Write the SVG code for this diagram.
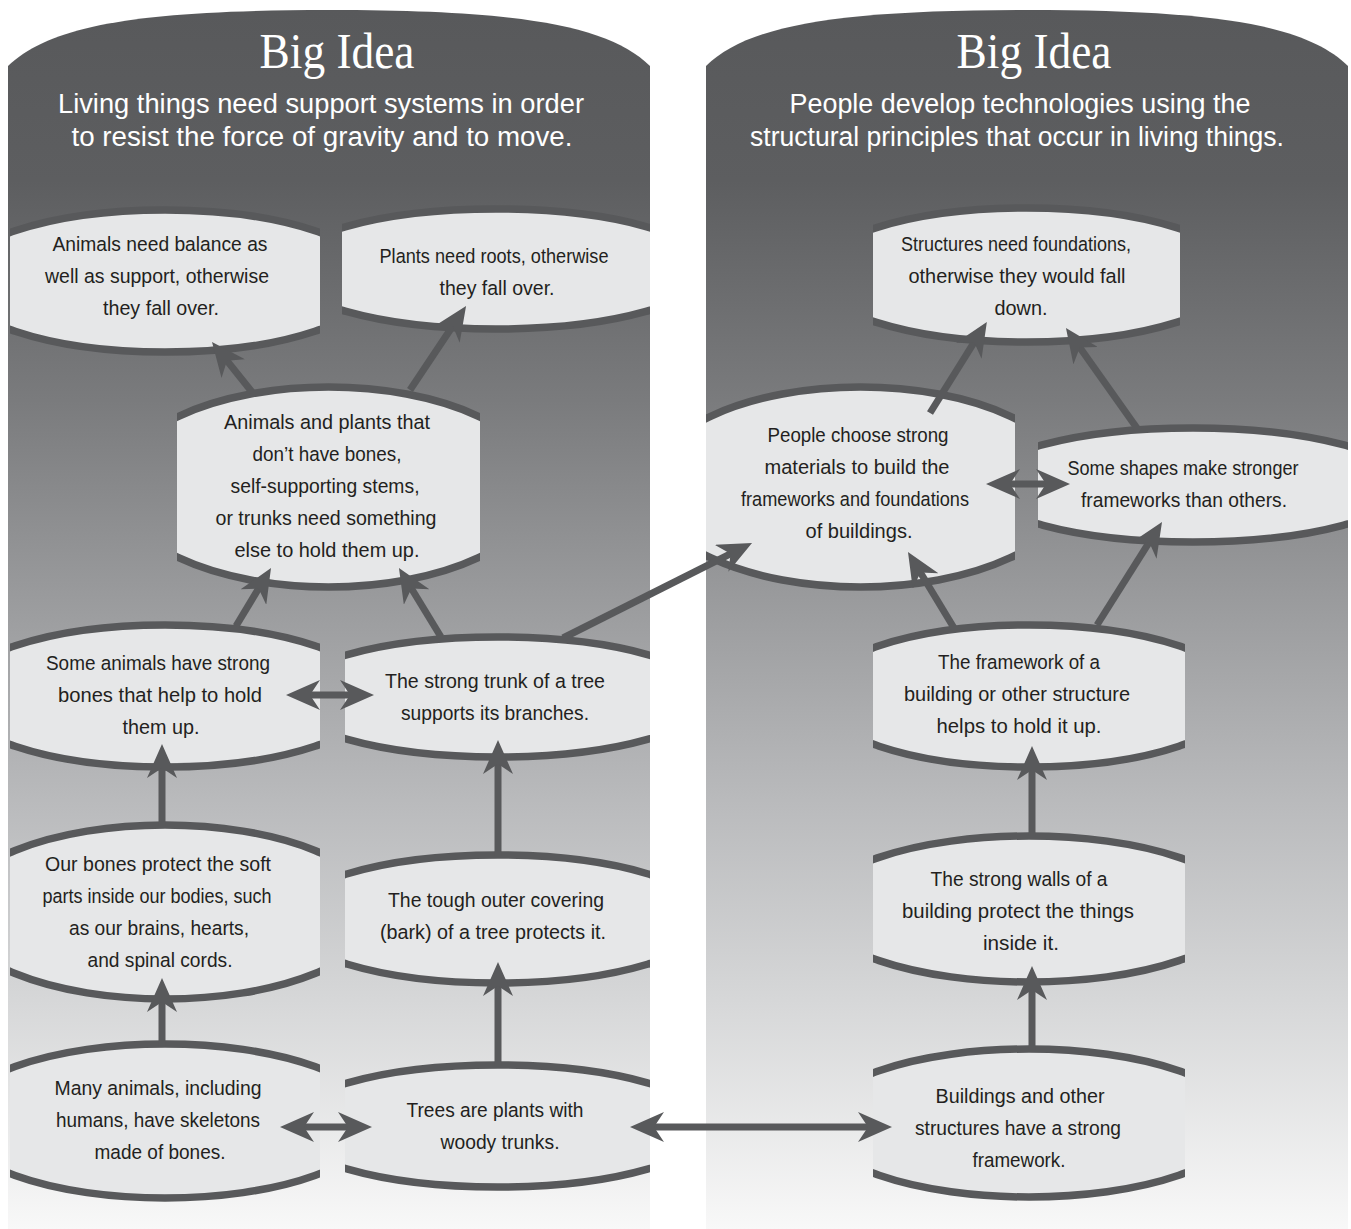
<svg xmlns="http://www.w3.org/2000/svg" width="1351" height="1229" viewBox="0 0 1351 1229">
<style>
.pt{font-family:"Liberation Sans",Arial,sans-serif;font-size:20.5px;fill:#231f20;text-anchor:middle}
.ttl{font-family:"Liberation Serif","Times New Roman",serif;font-size:50px;fill:#ffffff;text-anchor:middle}
.sub{font-family:"Liberation Sans",Arial,sans-serif;font-size:27px;fill:#ffffff;text-anchor:middle}
.shape{fill:#e6e7e8;stroke:#58595b;stroke-width:7.5}
.con{stroke:#58595b;stroke-width:7;fill:none}
.one{marker-end:url(#ah)}
.two{marker-start:url(#ah);marker-end:url(#ah)}
</style>
<defs>
<linearGradient id="bg" gradientUnits="userSpaceOnUse" x1="0" y1="10" x2="0" y2="1229">
<stop offset="0" stop-color="#58595b"/>
<stop offset="0.14" stop-color="#5d5e60"/>
<stop offset="0.32" stop-color="#7a7b7d"/>
<stop offset="0.484" stop-color="#9a9b9d"/>
<stop offset="0.648" stop-color="#b9babc"/>
<stop offset="0.812" stop-color="#d6d7d8"/>
<stop offset="1" stop-color="#f8f8f8"/>
</linearGradient>
<marker id="ah" markerUnits="userSpaceOnUse" markerWidth="34" markerHeight="30" refX="22" refY="15" orient="auto-start-reverse" viewBox="0 0 34 30">
<path d="M34,15 L0,0 L10,15 L0,30 Z" fill="#58595b"/>
</marker>
<clipPath id="c1"><rect x="10" y="200" width="310" height="162"/></clipPath>
<clipPath id="c2"><rect x="342" y="200" width="308" height="140"/></clipPath>
<clipPath id="c3"><rect x="177" y="378" width="303" height="218"/></clipPath>
<clipPath id="c4"><rect x="10" y="616" width="310" height="160"/></clipPath>
<clipPath id="c5"><rect x="345" y="628" width="305" height="138"/></clipPath>
<clipPath id="c6"><rect x="10" y="816" width="310" height="192"/></clipPath>
<clipPath id="c7"><rect x="345" y="846" width="305" height="146"/></clipPath>
<clipPath id="c8"><rect x="10" y="1035" width="310" height="172"/></clipPath>
<clipPath id="c9"><rect x="345" y="1056" width="305" height="140"/></clipPath>
<clipPath id="c10"><rect x="873" y="199" width="307" height="152"/></clipPath>
<clipPath id="c11"><rect x="706" y="378" width="309" height="218"/></clipPath>
<clipPath id="c12"><rect x="1038" y="419" width="310" height="132"/></clipPath>
<clipPath id="c13"><rect x="873" y="616" width="312" height="160"/></clipPath>
<clipPath id="c14"><rect x="873" y="827" width="312" height="164"/></clipPath>
<clipPath id="c15"><rect x="873" y="1040" width="312" height="166"/></clipPath>
</defs>
<rect width="1351" height="1229" fill="#ffffff"/>
<g id="panel-left">
<path d="M8,66 C50,25 140,10 329,10 C518,10 608,25 650,66 V1229 H8 Z" fill="url(#bg)"/>
<text class="ttl" x="337" y="68" textLength="155" lengthAdjust="spacingAndGlyphs">Big Idea</text>
<text class="sub" x="321" y="113" textLength="526" lengthAdjust="spacingAndGlyphs">Living things need support systems in order</text>
<text class="sub" x="322" y="146" textLength="501" lengthAdjust="spacingAndGlyphs">to resist the force of gravity and to move.</text>
</g>
<g id="panel-right">
<path d="M706,66 C748,25 838,10 1027,10 C1216,10 1306,25 1348,66 V1229 H706 Z" fill="url(#bg)"/>
<text class="ttl" x="1034" y="68" textLength="155" lengthAdjust="spacingAndGlyphs">Big Idea</text>
<text class="sub" x="1020" y="113" textLength="461" lengthAdjust="spacingAndGlyphs">People develop technologies using the</text>
<text class="sub" x="1017" y="146" textLength="534" lengthAdjust="spacingAndGlyphs">structural principles that occur in living things.</text>
</g>
<g id="n1"><ellipse class="shape" clip-path="url(#c1)" cx="165" cy="281" rx="212" ry="71"/>
<text class="pt"><tspan x="160" y="251" textLength="215" lengthAdjust="spacingAndGlyphs">Animals need balance as</tspan><tspan x="157" y="283" textLength="224" lengthAdjust="spacingAndGlyphs">well as support, otherwise</tspan><tspan x="161" y="315" textLength="116" lengthAdjust="spacingAndGlyphs">they fall over.</tspan></text></g>
<g id="n2"><ellipse class="shape" clip-path="url(#c2)" cx="496" cy="269" rx="212" ry="60"/>
<text class="pt"><tspan x="494" y="263" textLength="229" lengthAdjust="spacingAndGlyphs">Plants need roots, otherwise</tspan><tspan x="497" y="295" textLength="115" lengthAdjust="spacingAndGlyphs">they fall over.</tspan></text></g>
<g id="n3"><ellipse class="shape" clip-path="url(#c3)" cx="328.5" cy="487" rx="212" ry="100"/>
<text class="pt"><tspan x="327" y="429" textLength="206" lengthAdjust="spacingAndGlyphs">Animals and plants that</tspan><tspan x="327" y="461" textLength="149" lengthAdjust="spacingAndGlyphs">don’t have bones,</tspan><tspan x="325" y="493" textLength="189" lengthAdjust="spacingAndGlyphs">self-supporting stems,</tspan><tspan x="326" y="525" textLength="221" lengthAdjust="spacingAndGlyphs">or trunks need something</tspan><tspan x="327" y="557" textLength="185" lengthAdjust="spacingAndGlyphs">else to hold them up.</tspan></text></g>
<g id="n4"><ellipse class="shape" clip-path="url(#c4)" cx="165" cy="696" rx="212" ry="71"/>
<text class="pt"><tspan x="158" y="670" textLength="224" lengthAdjust="spacingAndGlyphs">Some animals have strong</tspan><tspan x="160" y="702" textLength="204" lengthAdjust="spacingAndGlyphs">bones that help to hold</tspan><tspan x="161" y="734" textLength="77" lengthAdjust="spacingAndGlyphs">them up.</tspan></text></g>
<g id="n5"><ellipse class="shape" clip-path="url(#c5)" cx="497.5" cy="697" rx="212" ry="60"/>
<text class="pt"><tspan x="495" y="688" textLength="220" lengthAdjust="spacingAndGlyphs">The strong trunk of a tree</tspan><tspan x="495" y="720" textLength="188" lengthAdjust="spacingAndGlyphs">supports its branches.</tspan></text></g>
<g id="n6"><ellipse class="shape" clip-path="url(#c6)" cx="165" cy="912" rx="212" ry="87"/>
<text class="pt"><tspan x="158" y="871" textLength="226" lengthAdjust="spacingAndGlyphs">Our bones protect the soft</tspan><tspan x="157" y="903" textLength="229" lengthAdjust="spacingAndGlyphs">parts inside our bodies, such</tspan><tspan x="159" y="935" textLength="180" lengthAdjust="spacingAndGlyphs">as our brains, hearts,</tspan><tspan x="160" y="967" textLength="145" lengthAdjust="spacingAndGlyphs">and spinal cords.</tspan></text></g>
<g id="n7"><ellipse class="shape" clip-path="url(#c7)" cx="497.5" cy="919" rx="212" ry="64"/>
<text class="pt"><tspan x="496" y="907" textLength="216" lengthAdjust="spacingAndGlyphs">The tough outer covering</tspan><tspan x="493" y="939" textLength="226" lengthAdjust="spacingAndGlyphs">(bark) of a tree protects it.</tspan></text></g>
<g id="n8"><ellipse class="shape" clip-path="url(#c8)" cx="165" cy="1121" rx="212" ry="77"/>
<text class="pt"><tspan x="158" y="1095" textLength="207" lengthAdjust="spacingAndGlyphs">Many animals, including</tspan><tspan x="158" y="1127" textLength="204" lengthAdjust="spacingAndGlyphs">humans, have skeletons</tspan><tspan x="160" y="1159" textLength="131" lengthAdjust="spacingAndGlyphs">made of bones.</tspan></text></g>
<g id="n9"><ellipse class="shape" clip-path="url(#c9)" cx="497.5" cy="1126" rx="212" ry="61"/>
<text class="pt"><tspan x="495" y="1117" textLength="177" lengthAdjust="spacingAndGlyphs">Trees are plants with</tspan><tspan x="500" y="1149" textLength="119" lengthAdjust="spacingAndGlyphs">woody trunks.</tspan></text></g>
<g id="r1"><ellipse class="shape" clip-path="url(#c10)" cx="1026.5" cy="275" rx="212" ry="67"/>
<text class="pt"><tspan x="1016" y="251" textLength="230" lengthAdjust="spacingAndGlyphs">Structures need foundations,</tspan><tspan x="1017" y="283" textLength="217" lengthAdjust="spacingAndGlyphs">otherwise they would fall</tspan><tspan x="1021" y="315" textLength="53" lengthAdjust="spacingAndGlyphs">down.</tspan></text></g>
<g id="r2"><ellipse class="shape" clip-path="url(#c11)" cx="860.5" cy="487" rx="212" ry="100"/>
<text class="pt"><tspan x="858" y="442" textLength="181" lengthAdjust="spacingAndGlyphs">People choose strong</tspan><tspan x="857" y="474" textLength="185" lengthAdjust="spacingAndGlyphs">materials to build the</tspan><tspan x="855" y="506" textLength="228" lengthAdjust="spacingAndGlyphs">frameworks and foundations</tspan><tspan x="859" y="538" textLength="107" lengthAdjust="spacingAndGlyphs">of buildings.</tspan></text></g>
<g id="r3"><ellipse class="shape" clip-path="url(#c12)" cx="1193" cy="485" rx="212" ry="57"/>
<text class="pt"><tspan x="1183" y="475" textLength="231" lengthAdjust="spacingAndGlyphs">Some shapes make stronger</tspan><tspan x="1184" y="507" textLength="206" lengthAdjust="spacingAndGlyphs">frameworks than others.</tspan></text></g>
<g id="r4"><ellipse class="shape" clip-path="url(#c13)" cx="1029" cy="696" rx="212" ry="71"/>
<text class="pt"><tspan x="1019" y="669" textLength="162" lengthAdjust="spacingAndGlyphs">The framework of a</tspan><tspan x="1017" y="701" textLength="226" lengthAdjust="spacingAndGlyphs">building or other structure</tspan><tspan x="1019" y="733" textLength="165" lengthAdjust="spacingAndGlyphs">helps to hold it up.</tspan></text></g>
<g id="r5"><ellipse class="shape" clip-path="url(#c14)" cx="1029" cy="909" rx="212" ry="73"/>
<text class="pt"><tspan x="1019" y="886" textLength="177" lengthAdjust="spacingAndGlyphs">The strong walls of a</tspan><tspan x="1018" y="918" textLength="232" lengthAdjust="spacingAndGlyphs">building protect the things</tspan><tspan x="1021" y="950" textLength="76" lengthAdjust="spacingAndGlyphs">inside it.</tspan></text></g>
<g id="r6"><ellipse class="shape" clip-path="url(#c15)" cx="1029" cy="1123" rx="212" ry="74"/>
<text class="pt"><tspan x="1020" y="1103" textLength="169" lengthAdjust="spacingAndGlyphs">Buildings and other</tspan><tspan x="1018" y="1135" textLength="206" lengthAdjust="spacingAndGlyphs">structures have a strong</tspan><tspan x="1019" y="1167" textLength="93" lengthAdjust="spacingAndGlyphs">framework.</tspan></text></g>
<g id="connectors">
<line class="con one" x1="252" y1="392" x2="219.5" y2="351.4"/>
<line class="con one" x1="410" y1="390" x2="459.4" y2="316"/>
<line class="con one" x1="236" y1="626" x2="264.8" y2="578.3"/>
<line class="con one" x1="441" y1="637" x2="405.2" y2="578.2"/>
<line class="con two" x1="298" y1="695" x2="362" y2="695"/>
<line class="con one" x1="162" y1="826" x2="162" y2="756"/>
<line class="con one" x1="498" y1="856" x2="498" y2="752"/>
<line class="con one" x1="162" y1="1047" x2="162" y2="990"/>
<line class="con one" x1="498" y1="1066" x2="498" y2="974"/>
<line class="con two" x1="292" y1="1127" x2="360" y2="1127"/>
<line class="con two" x1="642" y1="1127" x2="880" y2="1127"/>
<line class="con one" x1="563" y1="638" x2="741.3" y2="548.4"/>
<line class="con one" x1="930" y1="413" x2="980.5" y2="332.1"/>
<line class="con one" x1="1139" y1="431" x2="1072.9" y2="337.8"/>
<line class="con two" x1="998" y1="484" x2="1058" y2="484"/>
<line class="con one" x1="954" y1="628" x2="914.2" y2="562.3"/>
<line class="con one" x1="1097" y1="625" x2="1155.6" y2="532.2"/>
<line class="con one" x1="1032" y1="836" x2="1032" y2="758"/>
<line class="con one" x1="1032" y1="1050" x2="1032" y2="978"/>
</g>
</svg>
